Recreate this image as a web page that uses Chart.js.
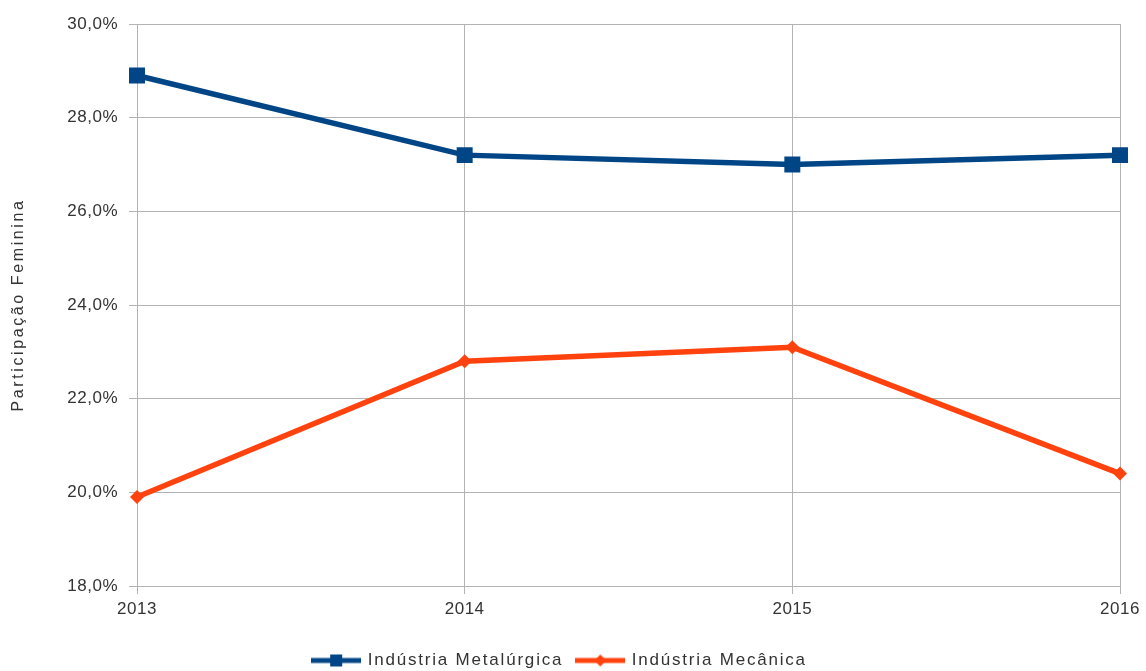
<!DOCTYPE html>
<html>
<head>
<meta charset="utf-8">
<script src="https://cdn.jsdelivr.net/npm/chart.js@4.4.1/dist/chart.umd.min.js"></script>
<style>
  html, body { margin: 0; padding: 0; background: #fff; }
  canvas { display: block; }
</style>
</head>
<body>
<canvas id="myChart" width="1146" height="671"></canvas>
<script>
const years = ['2013', '2014', '2015', '2016']
const metalurgica = [28.9, 27.2, 27.0, 27.2]
const mecanica = [19.9, 22.8, 23.1, 20.4]
const yTicks = [18, 20, 22, 24, 26, 28, 30]

const blue = '#004586'
const orange = '#ff420e'
const grid = '#b3b3b3'
const font = 'Liberation Sans, Arial, sans-serif'

// legend symbol: short line with marker in the middle
function legendIcon(color, shape) {
  const c = document.createElement('canvas')
  c.width = 50
  c.height = 16
  const g = c.getContext('2d')
  g.strokeStyle = color
  g.lineWidth = 5
  g.beginPath()
  g.moveTo(0, 8)
  g.lineTo(50, 8)
  g.stroke()
  g.fillStyle = color
  if (shape === 'rect') {
    g.fillRect(19, 2, 12, 12)
  } else {
    g.beginPath()
    g.moveTo(25, 2); g.lineTo(31, 8); g.lineTo(25, 14); g.lineTo(19, 8)
    g.closePath()
    g.fill()
  }
  return c
}

// the original text is drawn a bit spread out, so add letter spacing
const spacing = {
  id: 'spacing',
  beforeInit(c) { c.ctx.letterSpacing = '0.5px' },
  beforeUpdate(c) {
    const lg = c.legend
    if (lg && !lg._spaced) {
      const fit = lg.fit, draw = lg.draw
      lg.fit = function () {
        c.ctx.letterSpacing = '1.8px'
        fit.apply(this, arguments)
        c.ctx.letterSpacing = '0.5px'
        this.height = 33
      }
      lg.draw = function () {
        c.ctx.letterSpacing = '1.8px'
        draw.apply(this, arguments)
        c.ctx.letterSpacing = '0.5px'
      }
      lg._spaced = true
    }
  },
  afterUpdate(c) {
    const y = c.scales.y
    if (y && !y._spaced) {
      const dt = y.drawTitle
      y.drawTitle = function () {
        c.ctx.letterSpacing = '2.6px'
        dt.apply(this, arguments)
        c.ctx.letterSpacing = '0.5px'
      }
      y._spaced = true
    }
  }
}

const ctx = document.getElementById('myChart')

const chart = new Chart(ctx, {
  type: 'line',
  data: {
    labels: years,
    datasets: [{
      label: 'Indústria Metalúrgica',
      data: metalurgica,
      borderColor: blue,
      backgroundColor: blue,
      borderWidth: 5.5,
      pointStyle: 'rect',
      pointRadius: 11.3,
      pointHoverRadius: 11.3,
      pointBorderWidth: 0,
      tension: 0
    }, {
      label: 'Indústria Mecânica',
      data: mecanica,
      borderColor: orange,
      backgroundColor: orange,
      borderWidth: 5.5,
      pointStyle: 'rectRot',
      pointRadius: 7,
      pointHoverRadius: 7,
      pointBorderWidth: 0,
      tension: 0
    }]
  },
  plugins: [spacing],
  options: {
    responsive: false,
    animation: false,
    layout: { padding: { top: 24, right: 26, bottom: 0, left: 0 } },
    plugins: {
      tooltip: { enabled: false },
      legend: {
        position: 'bottom',
        labels: {
          usePointStyle: true,
          pointStyleWidth: 46,
          padding: 14,
          color: '#333',
          font: { family: font, size: 17 },
          generateLabels: (c) => c.data.datasets.map((ds, i) => ({
            text: ds.label,
            fillStyle: ds.borderColor,
            strokeStyle: ds.borderColor,
            lineWidth: 0,
            pointStyle: legendIcon(ds.borderColor, i === 0 ? 'rect' : 'diamond'),
            datasetIndex: i,
            hidden: false,
            fontColor: '#333'
          }))
        }
      }
    },
    scales: {
      x: {
        offset: false,
        grid: { color: grid, lineWidth: 1, tickLength: 8, tickColor: grid },
        border: { color: grid },
        ticks: {
          color: '#333',
          padding: 5,
          maxRotation: 0,
          font: { family: font, size: 17 }
        },
        afterFit: (s) => { s.height = 52 }
      },
      y: {
        min: 18,
        max: 30,
        afterBuildTicks: (s) => { s.ticks = yTicks.map(v => ({ value: v })) },
        grid: { color: grid, lineWidth: 1, tickLength: 8, tickColor: grid },
        border: { color: grid },
        ticks: {
          color: '#333',
          padding: 11,
          font: { family: font, size: 17 },
          callback: (v) => v.toFixed(1).replace('.', ',') + '%'
        },
        title: {
          display: true,
          text: 'Participação Feminina',
          color: '#333',
          padding: { top: 9, bottom: 4 },
          font: { family: font, size: 16 }
        },
        afterFit: (s) => { s.width = 137 }
      }
    }
  }
})
</script>
</body>
</html>
